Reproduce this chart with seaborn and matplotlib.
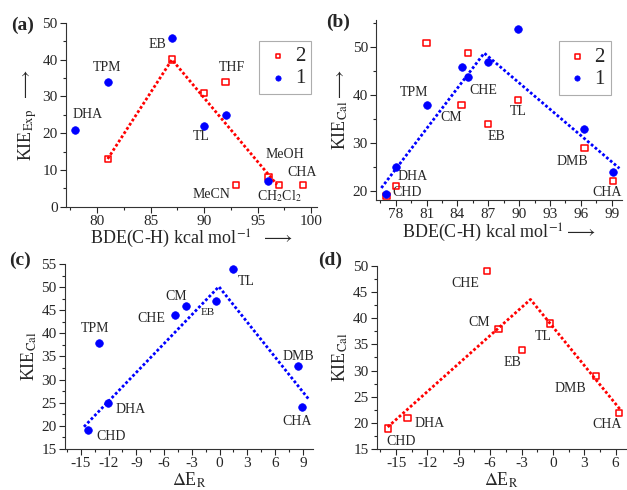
import matplotlib
matplotlib.use("Agg")
import matplotlib.pyplot as plt
from matplotlib.ticker import AutoMinorLocator, MultipleLocator
import seaborn as sns

# ---- panel (a): experimental KIE vs BDE
a_red_x = [81, 87, 90, 92, 93, 96, 97, 99.2]
a_red_y = [13, 40, 31, 34, 6, 8, 6, 6]
a_red_lab = ["", "", "", "THF", "MeCN", "MeOH", "CH$_2$Cl$_2$", "CHA"]
a_blue_x = [78, 81, 87, 90, 92, 96]
a_blue_y = [21, 34, 46, 22, 25, 7]
a_blue_lab = ["DHA", "TPM", "EB", "TL", "", ""]
a_fit_x = [81, 87, 96.8]
a_fit_y = [13, 40, 6]

# ---- panel (b): calculated KIE vs BDE
b_red_x = [77.1, 78, 81, 84.4, 85, 87, 89.9, 96.35, 99.1]
b_red_y = [19, 21, 50.9, 37.9, 48.9, 34, 39, 29, 22.1]
b_red_lab = ["CHD", "", "", "CM", "", "EB", "TL", "DMB", "CHA"]
b_blue_x = [77.1, 78, 81, 84.4, 85, 87, 89.9, 96.35, 99.1]
b_blue_y = [19.3, 24.9, 37.9, 45.9, 43.8, 46.9, 53.9, 33, 24]
b_blue_lab = ["", "DHA", "TPM", "", "CHE", "", "", "", ""]
b_fit_x = [76.6, 86.6, 99.75]
b_fit_y = [20.6, 48.8, 24.7]

# ---- panel (c): calculated KIE vs dE_R (1)
c_x = [-14.2, -12.06, -13.07, -4.86, -3.6, -0.36, 1.44, 8.5, 8.86]
c_y = [19, 25, 38, 44, 46, 47, 54, 33, 24]
c_lab = ["CHD", "DHA", "TPM", "CHE", "CM", "EB", "TL", "DMB", "CHA"]
c_fit_x = [-14.65, -0.07, 9.7]
c_fit_y = [19.8, 50.1, 25.6]

# ---- panel (d): calculated KIE vs dE_R (2)
d_x = [-15.8, -13.9, -6.3, -5.2, -2.97, -0.3, 4.1, 6.3]
d_y = [18.9, 20.9, 49.1, 38, 33.9, 39, 28.9, 21.9]
d_lab = ["CHD", "DHA", "CHE", "CM", "EB", "TL", "DMB", "CHA"]
d_fit_x = [-15.8, -2.14, 6.5]
d_fit_y = [19.2, 43.6, 22.4]

sns.set_style("ticks")
plt.rcParams['font.family'] = ['Liberation Serif', 'DejaVu Serif']
plt.rcParams['mathtext.fontset'] = 'stix'
plt.rcParams['axes.unicode_minus'] = False
plt.rcParams['xtick.direction'] = 'out'
plt.rcParams['ytick.direction'] = 'out'

RED = '#ff0000'
BLUE = '#0000ff'

fig = plt.figure(figsize=(6.27, 4.9), dpi=100)
ax_a = fig.add_axes([0.105, 0.578, 0.400, 0.3755])
ax_b = fig.add_axes([0.600, 0.592, 0.392, 0.367])
ax_c = fig.add_axes([0.1037, 0.0837, 0.3955, 0.3776])
ax_d = fig.add_axes([0.601, 0.0837, 0.397, 0.3735])


def red_pts(ax, x, y, label=None):
    sns.scatterplot(x=x, y=y, ax=ax, marker='s', s=20, facecolor='none',
                    edgecolor=RED, linewidth=1.1, label=label, zorder=4)


def blue_pts(ax, x, y, label=None):
    sns.scatterplot(x=x, y=y, ax=ax, marker='o', s=30, color=BLUE,
                    edgecolor=BLUE, linewidth=0.5, label=label, zorder=4)


def fit(ax, x, y, color):
    sns.lineplot(x=x, y=y, ax=ax, color=color, linestyle=(0, (1, 0.8)),
                 linewidth=2.0, sort=False, zorder=3)


def labels(ax, x, y, names, offsets, size=10):
    for xi, yi, name, off in zip(x, y, names, offsets):
        if not name:
            continue
        fs = size
        if isinstance(off, tuple) and len(off) == 3:
            fs = off[2]
            off = off[:2]
        ax.annotate(name, (xi, yi), xytext=off, textcoords='offset pixels',
                    ha='center', va='center', fontsize=fs)


def style(ax, xlim, ylim, xmaj, ymaj):
    ax.set_xlim(*xlim)
    ax.set_ylim(*ylim)
    ax.xaxis.set_major_locator(MultipleLocator(xmaj))
    ax.yaxis.set_major_locator(MultipleLocator(ymaj))
    ax.xaxis.set_minor_locator(AutoMinorLocator(2))
    ax.yaxis.set_minor_locator(AutoMinorLocator(2))
    ax.tick_params(which='major', length=4, width=0.8, labelsize=11, pad=2)
    ax.tick_params(which='minor', length=2, width=0.8)
    sns.despine(ax=ax)
    for s in ('left', 'bottom'):
        ax.spines[s].set_linewidth(0.8)
        ax.spines[s].set_color('#333333')


def legend(ax, loc):
    h, l = ax.get_legend_handles_labels()
    lg = ax.legend(h, l, loc='upper left', bbox_to_anchor=loc, frameon=True,
                   fancybox=False, edgecolor='#999999', fontsize=15,
                   handletextpad=0.2, markerscale=0.7, borderpad=0.3,
                   labelspacing=0.1, handlelength=1.2)
    lg.get_frame().set_linewidth(0.8)


# (a)
fit(ax_a, a_fit_x, a_fit_y, RED)
red_pts(ax_a, a_red_x, a_red_y, '2')
blue_pts(ax_a, a_blue_x, a_blue_y, '1')
labels(ax_a, a_red_x, a_red_y, a_red_lab,
       [None, None, None, (6, 14), (-25, -10), (17, 23), (0, -11), (-1, 12)])
labels(ax_a, a_blue_x, a_blue_y, a_blue_lab,
       [(12, 15), (-1, 14), (-15, -7), (-3, -11), None, None])
style(ax_a, (77.1, 100.5), (0, 50), 5, 10)
legend(ax_a, (0.73, 0.96))
ax_a.set_xlabel('BDE(C-H) kcal mol$^{-1}$  $\\longrightarrow$', fontsize=13, labelpad=0)
ax_a.set_ylabel('KIE$_{\\rm Exp}$  $\\longrightarrow$', fontsize=13, labelpad=2)

# (b)
fit(ax_b, b_fit_x, b_fit_y, BLUE)
red_pts(ax_b, b_red_x, b_red_y, '2')
blue_pts(ax_b, b_blue_x, b_blue_y, '1')
labels(ax_b, b_red_x, b_red_y, b_red_lab,
       [(21, 3), None, None, (-10, -12), None, (8, -13), (0, -12), (-12, -14), (-6, -12)])
labels(ax_b, b_blue_x, b_blue_y, b_blue_lab,
       [None, (17, -9), (-13, 13), None, (16, -13), None, None, None, None])
style(ax_b, (76.1, 100), (18.1, 55.7), 3, 10)
legend(ax_b, (0.70, 0.94))
ax_b.set_xlabel('BDE(C-H) kcal mol$^{-1}$$\\longrightarrow$', fontsize=13, labelpad=0)
ax_b.set_ylabel('KIE$_{\\rm Cal}$$\\longrightarrow$', fontsize=13, labelpad=2)

# (c)
fit(ax_c, c_fit_x, c_fit_y, BLUE)
blue_pts(ax_c, c_x, c_y)
labels(ax_c, c_x, c_y, c_lab,
       [(23, -6), (23, -7), (-4, 14), (-23, -4), (-10, 9), (-8, -12, 8),
        (13, -13), (0, 9), (-4, -14)])
style(ax_c, (-16.7, 10.1), (15, 55), 3, 5)
ax_c.set_xlabel('$\\Delta$E$_{\\rm R}$', fontsize=13, labelpad=0)
ax_c.set_ylabel('KIE$_{\\rm Cal}$', fontsize=13, labelpad=2)

# (d)
fit(ax_d, d_fit_x, d_fit_y, RED)
red_pts(ax_d, d_x, d_y)
labels(ax_d, d_x, d_y, d_lab,
       [(13, -13), (22, -5), (-22, -13), (-19, 6), (-9, -12), (-6, -13),
        (-25, -12), (-12, -12)])
style(ax_d, (-16.84, 6.97), (15, 50), 3, 5)
ax_d.set_xlabel('$\\Delta$E$_{\\rm R}$', fontsize=13, labelpad=0)
ax_d.set_ylabel('KIE$_{\\rm Cal}$', fontsize=13, labelpad=2)

for ax in (ax_c, ax_d):
    if ax.get_legend() is not None:
        ax.get_legend().remove()

# panel letters
for txt, px, py in [('(a)', 23, 25), ('(b)', 338, 22), ('(c)', 20, 260), ('(d)', 330, 260)]:
    fig.text(px / 627, 1 - py / 490, txt, fontsize=14, fontweight='bold',
             ha='center', va='center')

fig.savefig('out.png', dpi=100)
